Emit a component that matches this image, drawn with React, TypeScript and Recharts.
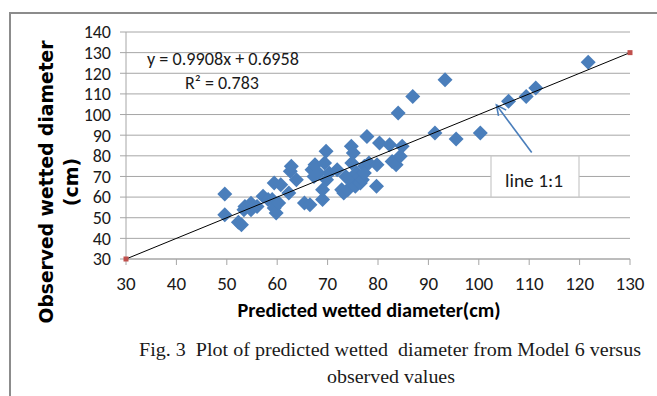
import { CartesianGrid, ReferenceLine, Scatter, ScatterChart, XAxis, YAxis } from 'recharts'

// predicted (model 6) vs observed wetted diameter, cm
const predicted = [
  49.6, 49.6, 52.3, 52.9, 53.4, 53.6, 54.8, 54.8, 56.0, 57.2, 58.2, 59.0, 59.4, 59.4, 59.8, 60.3,
  60.7, 62.3, 62.6, 62.8, 63.8, 65.4, 66.5, 66.9, 67.3, 67.5, 68.2, 69.0, 69.0, 69.4, 69.7, 69.8,
  70.3, 71.9, 72.8, 73.2, 73.6, 74.0, 74.4, 74.7, 74.8, 75.1, 75.5, 75.7, 76.3, 76.5, 76.9, 77.3,
  77.3, 77.8, 78.2, 79.7, 79.8, 80.3, 82.3, 82.8, 83.6, 84.0, 84.4, 84.8, 86.9, 91.3, 93.3, 95.5,
  100.3, 105.9, 109.4, 111.3, 121.7,
]
const observed = [
  61.5, 51.5, 47.8, 46.6, 53.9, 55.5, 53.9, 57.0, 55.5, 60.4, 58.8, 58.8, 66.8, 54.7, 52.3, 57.1,
  66.0, 62.0, 72.5, 74.9, 68.4, 57.1, 56.3, 73.3, 70.0, 75.7, 71.7, 58.8, 63.6, 76.5, 82.2, 68.4,
  71.7, 73.3, 63.6, 62.0, 70.0, 63.6, 68.4, 84.6, 76.5, 81.4, 65.2, 71.7, 70.0, 66.8, 68.4, 74.9,
  71.7, 89.4, 76.5, 65.2, 75.7, 86.2, 85.4, 77.3, 75.7, 100.8, 79.8, 84.6, 108.8, 91.1, 116.9, 88.2,
  91.1, 106.4, 108.8, 112.9, 125.3,
]
const oneToOne = [30, 130]
const xTicks = [30, 40, 50, 60, 70, 80, 90, 100, 110, 120, 130]
const yTicks = [30, 40, 50, 60, 70, 80, 90, 100, 110, 120, 130, 140]
// arrow of the "line 1:1" callout: tail then tip
const arrowX = [110.5, 103.5]
const arrowY = [81.6, 104.6]

const points = predicted.map((x, i) => ({ x, y: observed[i] }))
const linePoints = oneToOne.map((v) => ({ x: v, y: v }))

const blue = '#4A7EBB'
const grid = '#A6A6A6'
const sans = "Carlito, Calibri, 'Open Sans', sans-serif"

const Diamond = (props: any) => {
  const { cx, cy } = props
  const r = 7.5
  return <polygon points={`${cx},${cy - r} ${cx + r},${cy} ${cx},${cy + r} ${cx - r},${cy}`} fill={blue} />
}

const RedSquare = (props: any) => {
  const { cx, cy } = props
  return <rect x={cx - 2.5} y={cy - 2.5} width={5} height={5} fill="#C0504D" />
}

const Arrow = (props: any) => {
  const { x1, y1, x2, y2 } = props
  const a = Math.atan2(y2 - y1, x2 - x1)
  const len = 11
  const p1 = [x2 - len * Math.cos(a - 0.45), y2 - len * Math.sin(a - 0.45)]
  const p2 = [x2 - len * Math.cos(a + 0.45), y2 - len * Math.sin(a + 0.45)]
  return (
    <g stroke={blue} strokeWidth={1.6} fill="none">
      <line x1={x1} y1={y1} x2={x2} y2={y2} />
      <polyline points={`${p1[0]},${p1[1]} ${x2},${y2} ${p2[0]},${p2[1]}`} />
    </g>
  )
}

export default function App() {
  return (
    <div style={{ position: 'absolute', left: 0, top: 0, width: 657, height: 396, background: '#fff', overflow: 'hidden' }}>
      <div
        style={{
          position: 'absolute',
          left: 9,
          top: 12,
          width: 700,
          height: 450,
          borderTop: '2px solid #8c8c8c',
          borderLeft: '2px solid #8c8c8c',
        }}
      />
      <div style={{ position: 'absolute', left: 0, top: 0 }}>
        <ScatterChart width={657} height={396} margin={{ top: 32, right: 27, bottom: 107, left: 66 }}>
          <CartesianGrid vertical={false} stroke={grid} strokeWidth={1} />
          <XAxis
            type="number"
            dataKey="x"
            domain={[30, 130]}
            ticks={xTicks}
            interval={0}
            height={30}
            tickSize={6}
            tickMargin={12}
            axisLine={{ stroke: grid }}
            tickLine={{ stroke: grid }}
            tick={{ fill: '#1a1a1a', fontSize: 19, fontFamily: sans }}
          />
          <YAxis
            type="number"
            dataKey="y"
            domain={[30, 140]}
            ticks={yTicks}
            interval={0}
            width={60}
            tickSize={6}
            tickMargin={9}
            axisLine={{ stroke: grid }}
            tickLine={{ stroke: grid }}
            tick={{ fill: '#1a1a1a', fontSize: 18, fontFamily: sans }}
          />
          <Scatter data={points} shape={<Diamond />} isAnimationActive={false} />
          <Scatter
            data={linePoints}
            line={{ stroke: '#000', strokeWidth: 1 }}
            shape={<RedSquare />}
            isAnimationActive={false}
          />
          <ReferenceLine
            segment={[
              { x: arrowX[0], y: arrowY[0] },
              { x: arrowX[1], y: arrowY[1] },
            ]}
            shape={(p: any) => <Arrow {...p} />}
          />
        </ScatterChart>
      </div>
      <svg width={657} height={396} style={{ position: 'absolute', left: 0, top: 0, pointerEvents: 'none' }}>
        <text x={147} y={65} fontSize={18} fontFamily={sans} fill="#1a1a1a" textLength={152} lengthAdjust="spacingAndGlyphs">
          y = 0.9908x + 0.6958
        </text>
        <text x={185} y={89} fontSize={18} fontFamily={sans} fill="#1a1a1a" textLength={74} lengthAdjust="spacingAndGlyphs">
          R² = 0.783
        </text>
        <rect x={491} y={156} width={88} height={41} fill="#fff" stroke="#c8c8c8" strokeWidth={1.2} />
        <text x={534} y={187} textAnchor="middle" fontSize={19} fontFamily={sans} fill="#1a1a1a" textLength={58} lengthAdjust="spacingAndGlyphs">
          line 1:1
        </text>
        <text
          transform="translate(53,182) rotate(-90)"
          textAnchor="middle"
          fontSize={19}
          fontWeight="bold"
          fontFamily="'DejaVu Sans', Verdana, sans-serif"
          fill="#000"
          textLength={283}
          lengthAdjust="spacingAndGlyphs"
        >
          Observed wetted diameter
        </text>
        <text
          transform="translate(78,182) rotate(-90)"
          textAnchor="middle"
          fontSize={19}
          fontWeight="bold"
          fontFamily="'DejaVu Sans', Verdana, sans-serif"
          fill="#000"
        >
          (cm)
        </text>
        <text
          x={369}
          y={317}
          textAnchor="middle"
          fontSize={21}
          fontWeight="bold"
          fontFamily={sans}
          fill="#000"
          textLength={263}
          lengthAdjust="spacingAndGlyphs"
        >
          Predicted wetted diameter(cm)
        </text>
        <text
          x={139}
          y={356}
          fontSize={19}
          fontFamily="'Liberation Serif', 'Times New Roman', serif"
          fill="#1a1a1a"
          textLength={502}
          lengthAdjust="spacingAndGlyphs"
          style={{ whiteSpace: 'pre' }}
        >
          Fig. 3  Plot of predicted wetted  diameter from Model 6 versus
        </text>
        <text
          x={391}
          y={383}
          textAnchor="middle"
          fontSize={19}
          fontFamily="'Liberation Serif', 'Times New Roman', serif"
          fill="#1a1a1a"
          textLength={128}
          lengthAdjust="spacingAndGlyphs"
        >
          observed values
        </text>
      </svg>
    </div>
  )
}
